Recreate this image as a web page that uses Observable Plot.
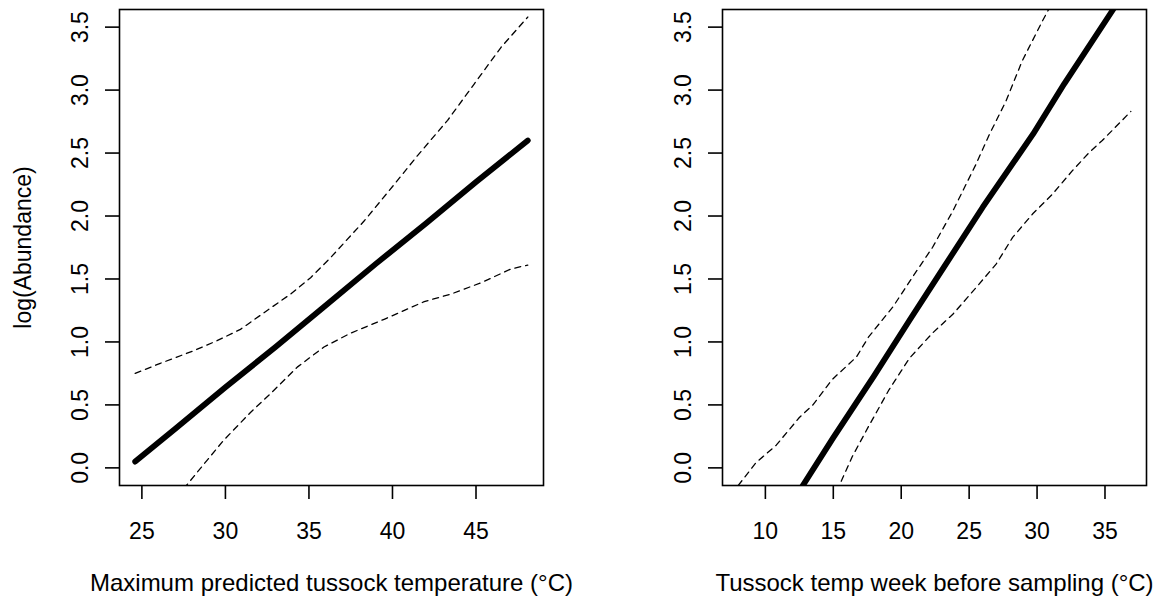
<!DOCTYPE html>
<html><head><meta charset="utf-8">
<script src="https://cdn.jsdelivr.net/npm/d3@7"></script>
<script src="https://cdn.jsdelivr.net/npm/@observablehq/plot@0.6"></script>
<style>
html,body{margin:0;padding:0;background:#fff;}
#wrap{display:flex;width:1160px;height:608px;overflow:hidden;}
#wrap svg{overflow:visible;}
</style></head><body><div id="wrap"></div>
<script>
// ---- Panel A: Maximum predicted tussock temperature ----
const maxTempFitX = [24.6, 27, 30, 33, 36, 39, 42, 45, 48.1];
const maxTempFitY = [0.05, 0.31, 0.64, 0.96, 1.29, 1.62, 1.94, 2.27, 2.60];
const maxTempUpperX = [24.6, 26.1, 28.1, 29.5, 30.9, 32.5, 33.9, 35.1, 36.3, 38.3, 40.1, 41.5, 43.3, 44.9, 46.5, 48.1];
const maxTempUpperY = [0.75, 0.83, 0.93, 1.01, 1.10, 1.25, 1.38, 1.51, 1.67, 1.96, 2.25, 2.48, 2.76, 3.05, 3.34, 3.58];
const maxTempLowerX = [24.6, 26.1, 27.6, 28.9, 29.9, 31.5, 32.7, 34.3, 35.9, 37.5, 39.5, 41.9, 43.5, 45.3, 47.1, 48.1];
const maxTempLowerY = [-0.64, -0.41, -0.15, 0.06, 0.22, 0.44, 0.59, 0.80, 0.96, 1.07, 1.18, 1.32, 1.38, 1.47, 1.58, 1.61];
const maxTempTicks = [25, 30, 35, 40, 45];
const maxTempLabel = "Maximum predicted tussock temperature (°C)";

// ---- Panel B: Tussock temp week before sampling ----
const weekFitX = [8, 10, 12.7, 15, 18, 20.6, 23, 26, 29.7, 32, 35.6, 36.9];
const weekFitY = [-0.92, -0.59, -0.15, 0.24, 0.73, 1.17, 1.57, 2.07, 2.65, 3.05, 3.64, 3.86];
const weekUpperX = [8, 9.3, 10.8, 12.5, 13.5, 14.9, 16.7, 17.6, 19.4, 20.8, 22.3, 23.8, 25.5, 26.5, 27.7, 28.9, 30.4, 31.0, 33.5, 36.9];
const weekUpperY = [-0.14, 0.04, 0.18, 0.40, 0.50, 0.70, 0.88, 1.04, 1.28, 1.51, 1.75, 2.04, 2.41, 2.65, 2.91, 3.23, 3.55, 3.67, 4.15, 4.9];
const weekLowerX = [8, 12, 15.4, 16.4, 17.6, 19.1, 20.6, 22.3, 23.8, 25.5, 27.0, 28.2, 29.7, 31.1, 32.6, 33.8, 34.8, 36.9];
const weekLowerY = [-1.55, -0.80, -0.15, 0.09, 0.33, 0.62, 0.87, 1.07, 1.22, 1.43, 1.62, 1.83, 2.02, 2.17, 2.36, 2.50, 2.60, 2.83];
const weekTicks = [10, 15, 20, 25, 30, 35];
const weekLabel = "Tussock temp week before sampling (°C)";

// ---- shared y axis ----
const yTicks = [0, 0.5, 1, 1.5, 2, 2.5, 3, 3.5];
const yDomain = [-0.14, 3.64];
const yLabel = "log(Abundance)";

const zip = (xs, ys) => xs.map((x, i) => ({x, y: ys[i]}));

function panel({fitX, fitY, upX, upY, loX, loY, xDomain, xTicks, xLabel, marginLeft, marginRight, showYLabel}) {
  const marks = [
    Plot.line(zip(loX, loY), {x: "x", y: "y", stroke: "black", strokeWidth: 1.3, strokeDasharray: "6,5", clip: true}),
    Plot.line(zip(upX, upY), {x: "x", y: "y", stroke: "black", strokeWidth: 1.3, strokeDasharray: "6,5", clip: true}),
    Plot.line(zip(fitX, fitY), {x: "x", y: "y", stroke: "black", strokeWidth: 5.8, strokeLinecap: "round", clip: true}),
    Plot.frame({stroke: "black", strokeWidth: 1.6}),
    Plot.axisX(xTicks, {tickSize: 14, tickPadding: 23, strokeWidth: 1.6, tickFormat: d => String(d)}),
    Plot.axisY(yTicks, {tickSize: 14, tickPadding: 18, tickRotate: -90, strokeWidth: 1.6, tickFormat: d => d.toFixed(1)}),
    Plot.text([xLabel], {text: d => d, frameAnchor: "bottom", dy: 98, lineAnchor: "middle", textAnchor: "middle", fontSize: 24})
  ];
  if (showYLabel) marks.push(Plot.text([yLabel], {text: d => d, frameAnchor: "left", dx: -96, rotate: -90, lineAnchor: "middle", textAnchor: "middle", fontSize: 23}));
  return Plot.plot({
    width: 580, height: 608,
    marginLeft, marginRight, marginTop: 9, marginBottom: 123,
    x: {domain: xDomain, label: null},
    y: {domain: yDomain, label: null},
    style: {fontFamily: "'Liberation Sans', Arial, sans-serif", fontSize: "23px", color: "black", background: "white"},
    marks
  });
}

const wrap = document.getElementById("wrap");
wrap.append(panel({
  fitX: maxTempFitX, fitY: maxTempFitY, upX: maxTempUpperX, upY: maxTempUpperY, loX: maxTempLowerX, loY: maxTempLowerY,
  xDomain: [23.66, 49.04], xTicks: maxTempTicks, xLabel: maxTempLabel, marginLeft: 119, marginRight: 37, showYLabel: true
}));
wrap.append(panel({
  fitX: weekFitX, fitY: weekFitY, upX: weekUpperX, upY: weekUpperY, loX: weekLowerX, loY: weekLowerY,
  xDomain: [6.844, 38.056], xTicks: weekTicks, xLabel: weekLabel, marginLeft: 142, marginRight: 14, showYLabel: false
}));
</script>
</body></html>
